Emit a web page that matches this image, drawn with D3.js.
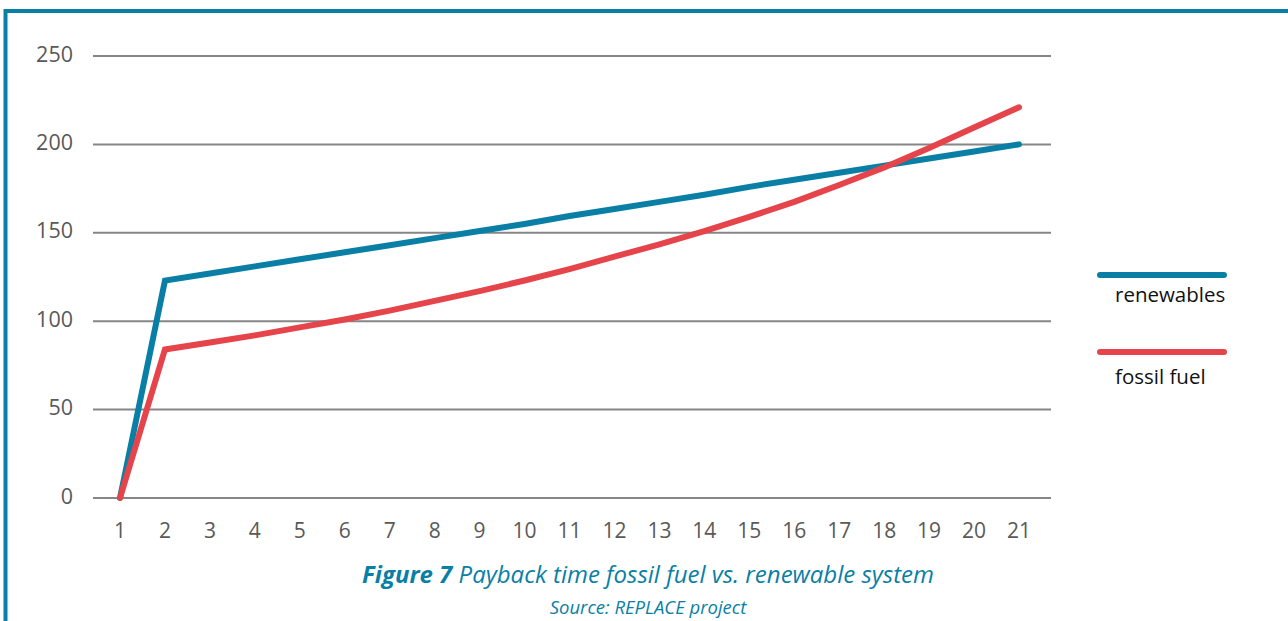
<!DOCTYPE html>
<html>
<head>
<meta charset="utf-8">
<script src="https://cdn.jsdelivr.net/npm/d3@7"></script>
<style>
  body { margin: 0; background: #fff; }
  svg { display: block; }
</style>
</head>
<body>
<div id="chart"></div>
<script>
// Data
const years = d3.range(1, 22);
const renewables = [0, 123, 127, 131, 135, 139, 143, 147, 151, 155, 159.5, 163.5, 167.5, 171.5, 176, 180, 184, 188, 192, 196, 200];
const fossilFuel = [0, 84, 88, 92, 96.5, 101, 106, 111.5, 117, 123, 129.5, 136.5, 143.5, 151, 159, 167.5, 177, 187, 198, 209.5, 221];
const yTicks = [0, 50, 100, 150, 200, 250];

const seriesNames = ["renewables", "fossil fuel"];
const seriesColors = ["#0a7fa5", "#e5444a"];

const W = 1288, H = 621;
const svg = d3.select("#chart").append("svg")
    .attr("width", W)
    .attr("height", H);

// Frame around the figure (left and top edges show)
svg.append("path")
    .attr("d", "M5.5,621 V11 H1288")
    .attr("fill", "none")
    .attr("stroke", "#0a7fa5")
    .attr("stroke-width", 4);

// Scales
const x = d3.scaleLinear().domain([1, 21]).range([120, 1019]);
const y = d3.scaleLinear().domain([0, 250]).range([498, 56]);

// Gridlines
svg.append("g")
    .selectAll("line")
    .data(yTicks)
    .enter().append("line")
    .attr("x1", 93)
    .attr("x2", 1051)
    .attr("y1", d => y(d))
    .attr("y2", d => y(d))
    .attr("stroke", "#868686")
    .attr("stroke-width", 2);

// Y axis labels
svg.append("g")
    .selectAll("text")
    .data(yTicks)
    .enter().append("text")
    .attr("x", 73)
    .attr("y", d => y(d) - 2)
    .attr("dy", "0.35em")
    .attr("text-anchor", "end")
    .attr("font-family", "'Open Sans', sans-serif")
    .attr("font-size", 21.5)
    .attr("fill", "#595959")
    .text(d => d);

// X axis labels
svg.append("g")
    .selectAll("text")
    .data(years)
    .enter().append("text")
    .attr("x", d => x(d))
    .attr("y", 531)
    .attr("dy", "0.35em")
    .attr("text-anchor", "middle")
    .attr("font-family", "'Open Sans', sans-serif")
    .attr("font-size", 21)
    .attr("fill", "#595959")
    .text(d => d);

// Lines
const line = d3.line()
    .x((d, i) => x(years[i]))
    .y(d => y(d));

[renewables, fossilFuel].forEach((values, k) => {
    svg.append("path")
        .datum(values)
        .attr("d", line)
        .attr("fill", "none")
        .attr("stroke", seriesColors[k])
        .attr("stroke-width", 6)
        .attr("stroke-linecap", "round")
        .attr("stroke-linejoin", "miter");
});

// Legend
const legend = svg.append("g");
seriesNames.forEach((name, k) => {
    const ly = 275 + k * 77;
    legend.append("line")
        .attr("x1", 1100)
        .attr("x2", 1224)
        .attr("y1", ly)
        .attr("y2", ly)
        .attr("stroke", seriesColors[k])
        .attr("stroke-width", 6)
        .attr("stroke-linecap", "round");
    legend.append("text")
        .attr("x", 1115)
        .attr("y", ly + 20 + k * 5)
        .attr("dy", "0.35em")
        .attr("font-family", "'Open Sans', sans-serif")
        .attr("font-size", 20.5)
        .attr("fill", "#111")
        .text(name);
});

// Caption
const caption = svg.append("text")
    .attr("x", 648)
    .attr("y", 575)
    .attr("dy", "0.35em")
    .attr("text-anchor", "middle")
    .attr("font-family", "'Open Sans', sans-serif")
    .attr("font-style", "italic")
    .attr("font-size", 24)
    .attr("fill", "#0a7fa5");
caption.append("tspan")
    .attr("font-weight", "bold")
    .text("Figure 7");
caption.append("tspan")
    .text(" Payback time fossil fuel vs. renewable system");

svg.append("text")
    .attr("x", 648)
    .attr("y", 608)
    .attr("dy", "0.35em")
    .attr("text-anchor", "middle")
    .attr("font-family", "'Open Sans', sans-serif")
    .attr("font-style", "italic")
    .attr("font-size", 18.5)
    .attr("fill", "#0a7fa5")
    .text("Source: REPLACE project");
</script>
</body>
</html>
